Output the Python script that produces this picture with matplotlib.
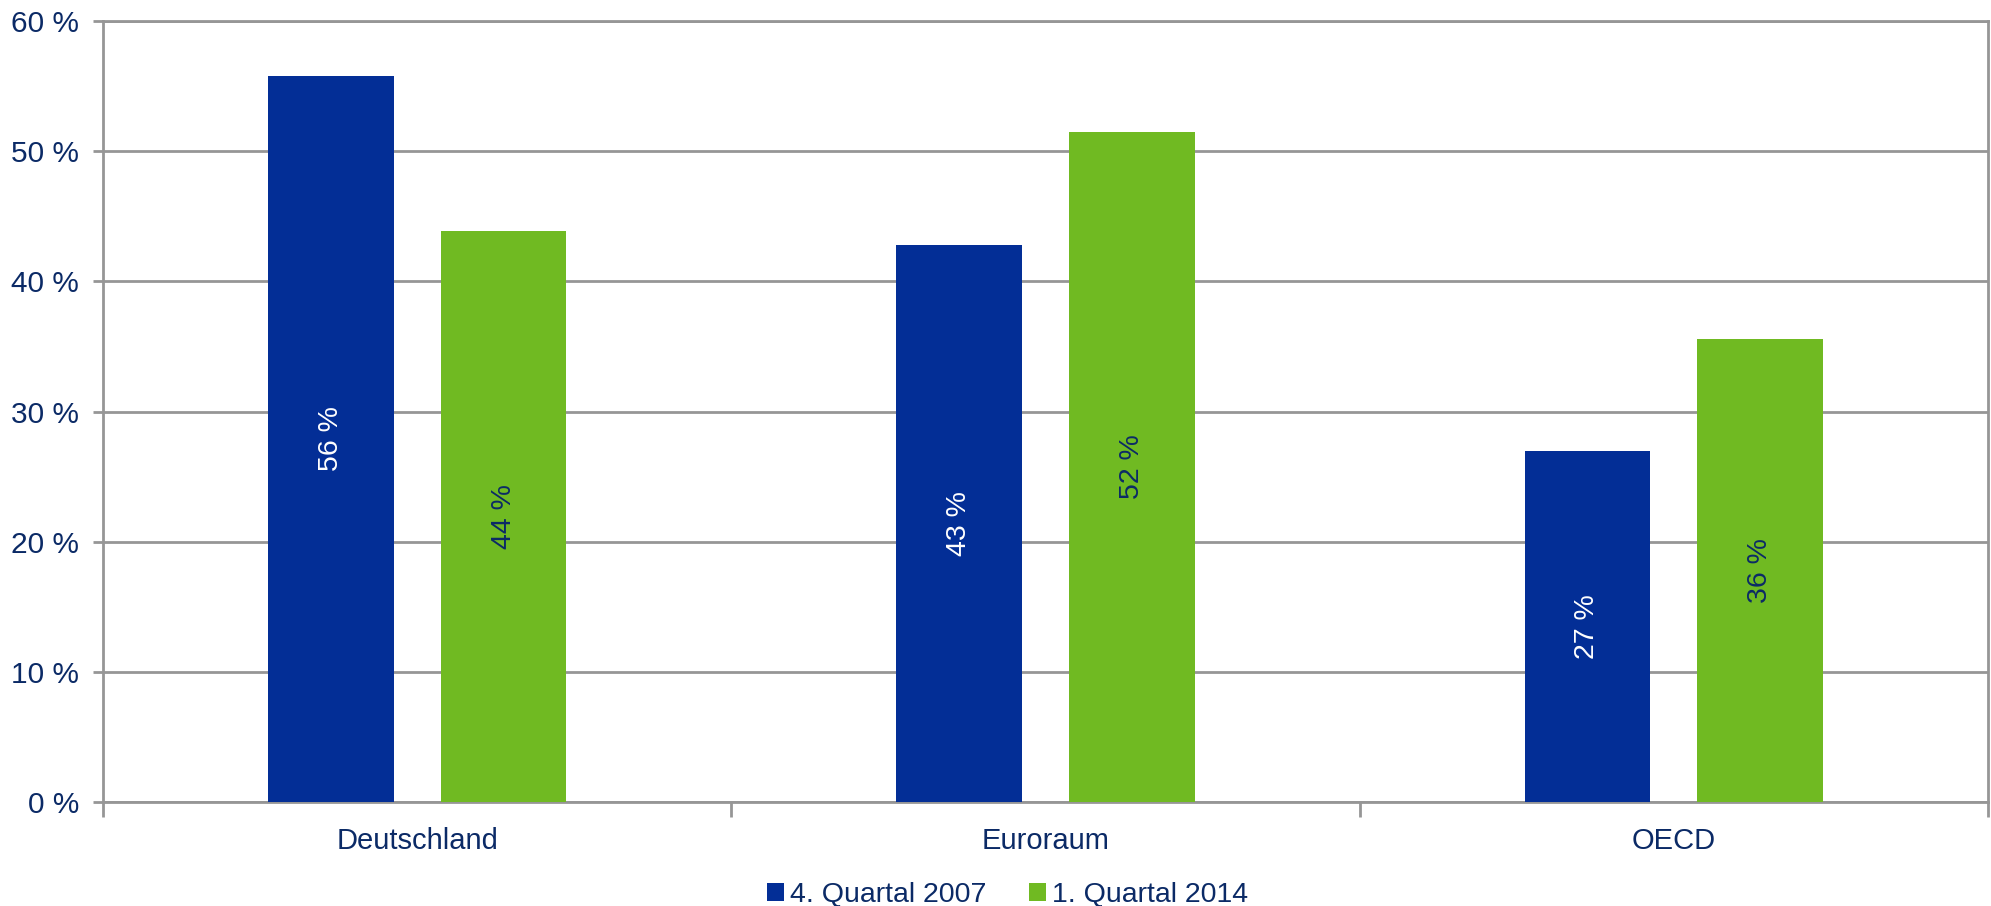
import matplotlib
matplotlib.use("Agg")
import matplotlib.pyplot as plt
from matplotlib.patches import Patch
import numpy as np

plt.rcParams['font.family'] = ['Liberation Sans', 'DejaVu Sans']

categories = ["Deutschland", "Euroraum", "OECD"]
series_names = ["4. Quartal 2007", "1. Quartal 2014"]
q4_2007 = [55.8, 42.8, 27.0]
q1_2014 = [43.9, 51.5, 35.6]
y_ticks = [0, 10, 20, 30, 40, 50, 60]

BLUE = "#032e96"
GREEN = "#70ba22"
NAVY = "#0b2a66"
GRID = "#969696"

fig = plt.figure(figsize=(19.91, 9.06), dpi=100)
ax = fig.add_axes([0.0517, 0.1148, 0.9468, 0.862])

x = np.arange(len(categories))
width = 0.2
offset = 0.1375
bars1 = ax.bar(x - offset, q4_2007, width, color=BLUE, zorder=3)
bars2 = ax.bar(x + offset, q1_2014, width, color=GREEN, zorder=3)

for rect, v in zip(bars1, q4_2007):
    ax.text(rect.get_x() + rect.get_width() / 2, v / 2, f"{v:.0f} %",
            rotation=90, ha="center", va="center", color="white",
            fontsize=20.5, zorder=4)
for rect, v in zip(bars2, q1_2014):
    ax.text(rect.get_x() + rect.get_width() / 2, v / 2, f"{v:.0f} %",
            rotation=90, ha="center", va="center", color=NAVY,
            fontsize=20.5, zorder=4)

ax.set_xlim(-0.5, len(categories) - 0.5)
ax.set_ylim(0, 60)
ax.set_yticks(y_ticks)
ax.set_yticklabels([f"{t} %" for t in y_ticks])
ax.yaxis.grid(True, color=GRID, linewidth=2, zorder=0)

# category separators as major ticks, names as minor ticks
ax.set_xticks(np.arange(len(categories) + 1) - 0.5)
ax.set_xticklabels([])
ax.set_xticks(x, minor=True)
ax.set_xticklabels(categories, minor=True)
ax.tick_params(axis="x", which="major", length=11, width=2, color=GRID, direction="out")
ax.tick_params(axis="x", which="minor", length=0, pad=18, labelsize=21, labelcolor=NAVY)
ax.tick_params(axis="y", length=7, width=2, color=GRID, pad=10, labelsize=21.5, labelcolor=NAVY)

for side in ["left", "right", "top", "bottom"]:
    ax.spines[side].set_color(GRID)
    ax.spines[side].set_linewidth(2)

handles = [Patch(facecolor=BLUE, edgecolor="none"), Patch(facecolor=GREEN, edgecolor="none")]
fig.legend(handles, series_names, loc="center", bbox_to_anchor=(0.506, 0.0125),
           ncol=2, frameon=False, fontsize=20.5, labelcolor=NAVY,
           handlelength=0.6, handleheight=0.6, handletextpad=0.2,
           columnspacing=1.5, borderpad=0)

fig.savefig("out.png", dpi=100)
